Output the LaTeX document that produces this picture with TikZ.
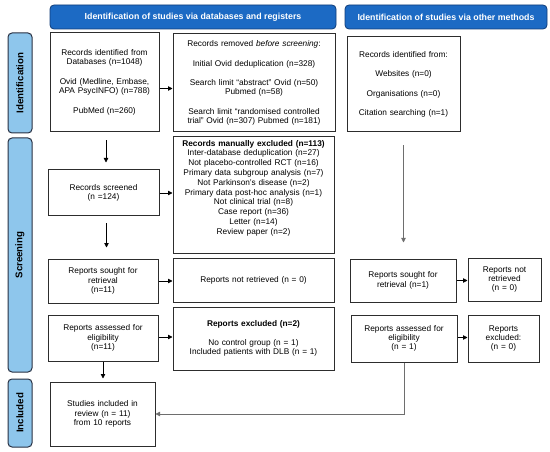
\documentclass[tikz,border=0pt]{standalone}
\usepackage{fontspec}
\setmainfont{Liberation Sans}
\usetikzlibrary{arrows.meta,positioning,calc}

\definecolor{hdrblue}{RGB}{28,106,196}
\definecolor{hdredge}{RGB}{16,60,120}
\definecolor{stgblue}{RGB}{142,198,236}
\definecolor{stgedge}{RGB}{40,48,66}
\definecolor{boxedge}{RGB}{45,45,45}
\definecolor{lnkgray}{RGB}{110,110,110}

\tikzset{
  box/.style={draw=boxedge, line width=1pt, fill=white, align=center,
    text width=#1, inner xsep=0pt, inner ysep=2pt,
    font=\fontsize{8.3}{9.3}\selectfont},
  header/.style={draw=hdredge, line width=0.8pt, fill=hdrblue, rounded corners=4pt,
    text=white, font=\fontsize{8.8}{10}\selectfont\bfseries, minimum height=24pt},
  stage/.style={draw=stgedge, line width=1pt, fill=stgblue, rounded corners=4pt,
    minimum width=24pt},
  stagetext/.style={rotate=90, font=\fontsize{9.7}{11}\selectfont\bfseries},
  arr/.style={-{Triangle[length=4.5pt,width=4.5pt]}, line width=0.8pt, black},
}

\begin{document}
\begin{tikzpicture}[x=1pt,y=-1pt]
    \useasboundingbox (0,0) rectangle (550,452);

    % Column headers
    \node[header, minimum width=286pt] (hdrdb) at (193,17) {Identification of studies via databases and registers};
    \node[header, minimum width=202pt] (hdroth) at (446,17) {Identification of studies via other methods};

    % Stage bars on the left
    \node[stage, minimum height=100pt] (stgid) at (20,83) {};
    \node[stagetext] (stgidtxt) at (stgid.center) {Identification};
    \node[stage, minimum height=234pt] (stgscr) at (20,255) {};
    \node[stagetext] (stgscrtxt) at (stgscr.center) {Screening};
    \node[stage, minimum height=68pt] (stginc) at (20,413) {};
    \node[stagetext] (stginctxt) at (stginc.center) {Included};

    % Databases and registers: identification
    \node[box=109pt, minimum height=99pt] (dbid) at (104.5,82.5)
      {Records identified from\\ Databases (n=1048)\\[10pt]
       Ovid (Medline, Embase,\\ APA PsycINFO) (n=788)\\[11pt]
       PubMed (n=260)};
    \node[box=162pt, minimum height=98pt] (removed) at (254,83)
      {Records removed \textit{before screening}:\\[10pt]
       Initial Ovid deduplication (n=328)\\[10pt]
       Search limit ``abstract'' Ovid (n=50)\\ Pubmed (n=58)\\[10pt]
       Search limit ``randomised controlled\\ trial'' Ovid (n=307) Pubmed (n=181)};

    % Databases and registers: screening
    \node[box=111pt, minimum height=46pt] (screened) at (103.5,193)
      {Records screened\\ (n =124)};
    \node[box=161pt, minimum height=116pt] (manexcl) at (253.5,195)
      {\parbox[c][110pt][t]{157pt}{\centering\fontsize{8.3}{9.8}\selectfont
       \textbf{Records manually excluded (n=113)}\\ Inter-database deduplication (n=27)\\
       Not placebo-controlled RCT (n=16)\\ Primary data subgroup analysis (n=7)\\
       Not Parkinson's disease (n=2)\\ Primary data post-hoc analysis (n=1)\\
       Not clinical trial (n=8)\\ Case report (n=36)\\ Letter (n=14)\\ Review paper (n=2)}};
    \node[box=110pt, minimum height=44pt] (sought) at (103,281)
      {Reports sought for\\ retrieval\\ (n=11)};
    \node[box=161pt, minimum height=44pt] (notret) at (253.5,280)
      {Reports not retrieved (n = 0)};
    \node[box=110pt, minimum height=46pt] (assessed) at (103,338)
      {Reports assessed for\\ eligibility\\ (n=11)};
    \node[box=161pt, minimum height=63pt] (repexcl) at (253.5,338.5)
      {\textbf{Reports excluded (n=2)}\\[10pt]
       No control group (n = 1)\\ Included patients with DLB (n = 1)};

    % Included
    \node[box=105pt, minimum height=64pt] (studies) at (102.5,414)
      {Studies included in\\ review (n = 11)\\ from 10 reports};

    % Other methods
    \node[box=113pt, minimum height=95pt] (othid) at (403.5,84.5)
      {Records identified from:\\[10pt] Websites (n=0)\\[10pt]
       Organisations (n=0)\\[10pt] Citation searching (n=1)};
    \node[box=106pt, minimum height=43pt] (othsought) at (403,280.5)
      {Reports sought for\\ retrieval (n=1)};
    \node[box=73pt, minimum height=43pt] (othnotret) at (504.5,279.5)
      {Reports not\\ retrieved\\ (n = 0)};
    \node[box=106pt, minimum height=47pt] (othassessed) at (404,338.5)
      {Reports assessed for\\ eligibility\\ (n = 1)};
    \node[box=71pt, minimum height=47pt] (othexcl) at (503.5,338.5)
      {Reports\\ excluded:\\ (n = 0)};

    % Connectors, databases column
    \draw[arr] ([yshift=-6pt]dbid.east) -- ([yshift=-6pt]dbid.east -| removed.west);
    \draw[arr, shorten <=8pt, shorten >=7pt] ([xshift=1.5pt]dbid.south) -- ([xshift=1.5pt]dbid.south |- screened.north);
    \draw[arr] (screened.east) -- (screened.east -| manexcl.west);
    \draw[arr, shorten <=7pt, shorten >=11pt] ([xshift=3pt]screened.south) -- ([xshift=3pt]screened.south |- sought.north);
    \draw[arr] (sought.east) -- (sought.east -| notret.west);
    \draw[arr] ([yshift=1pt]assessed.east) -- ([yshift=1pt]assessed.east -| repexcl.west);
    \draw[arr, shorten >=3pt] (assessed.south) -- (assessed.south |- studies.north);

    % Connectors, other methods column
    \draw[arr, lnkgray, shorten <=13pt, shorten >=16pt] (othid.south) -- (othid.south |- othsought.north);
    \draw[arr] (othsought.east) -- (othsought.east -| othnotret.west);
    \draw[arr] ([yshift=1pt]othassessed.east) -- ([yshift=1pt]othassessed.east -| othexcl.west);
    \draw[arr, lnkgray] (othassessed.south) |- (studies.east);
\end{tikzpicture}
\end{document}
